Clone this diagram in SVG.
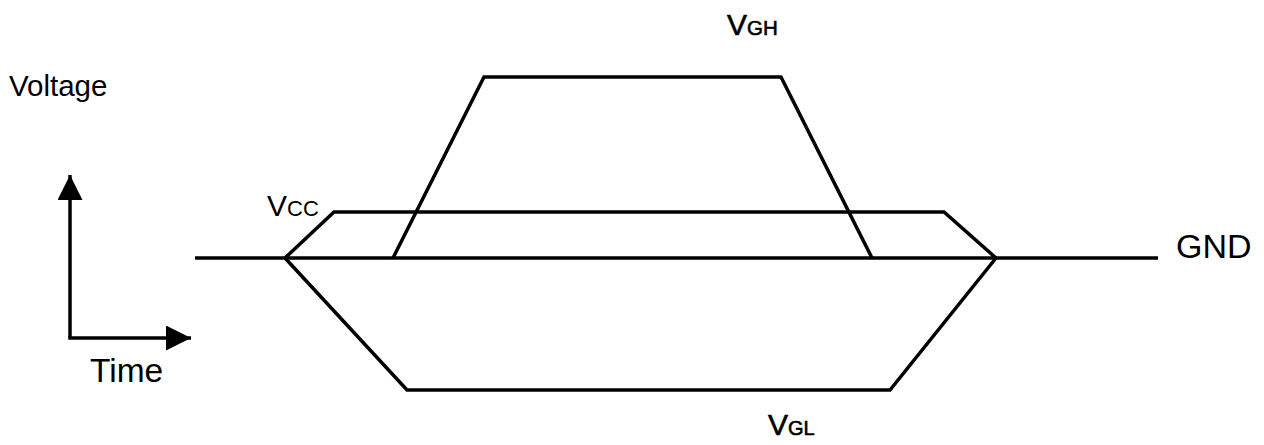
<svg xmlns="http://www.w3.org/2000/svg" width="1264" height="445" viewBox="0 0 1264 445">
<style>
.ln{fill:none;stroke:#000;stroke-width:3.5;stroke-linejoin:miter}
.t{font-family:"Liberation Sans",Arial,sans-serif;fill:#000}
.h{stroke:#000;stroke-width:0.6}
</style>
<defs>
<marker id="ah" viewBox="0 0 25 25" refX="25" refY="12.5" markerWidth="25" markerHeight="25" markerUnits="userSpaceOnUse" orient="auto">
<path d="M0,0 L25,12.5 L0,25 Z" fill="#000"/>
</marker>
</defs>
<rect width="1264" height="445" fill="#fff"/>
<g id="axes">
<path class="ln" d="M70,338 L70,175" marker-end="url(#ah)"/>
<path class="ln" d="M68.3,338 L191,338" marker-end="url(#ah)"/>
<text class="t" x="9" y="96" font-size="29.5" fill="#111">Voltage</text>
<text class="t" x="90" y="382" font-size="33.5" fill="#111">Time</text>
</g>
<g id="connectors">
<path id="gnd-line" class="ln" d="M195,258 L1158,258"/>
<path id="vcc" class="ln" d="M285,258 L334,212 L944,212 L996,258"/>
<path id="vgl" class="ln" d="M285,258 L407,390 L890,390 L996,258"/>
<path id="vgh" class="ln" d="M393,258 L484,77 L781,77 L872,258"/>
</g>
<g id="label-vgh"><text class="t h" x="727" y="35" font-size="30">V<tspan font-size="20.5">GH</tspan></text></g>
<g id="label-vcc"><text class="t" x="267" y="216" font-size="30">V<tspan font-size="22">CC</tspan></text></g>
<g id="label-gnd"><text class="t" x="1176" y="258" font-size="34">GND</text></g>
<g id="label-vgl"><text class="t h" x="768" y="435" font-size="30">V<tspan font-size="20">GL</tspan></text></g>
</svg>
